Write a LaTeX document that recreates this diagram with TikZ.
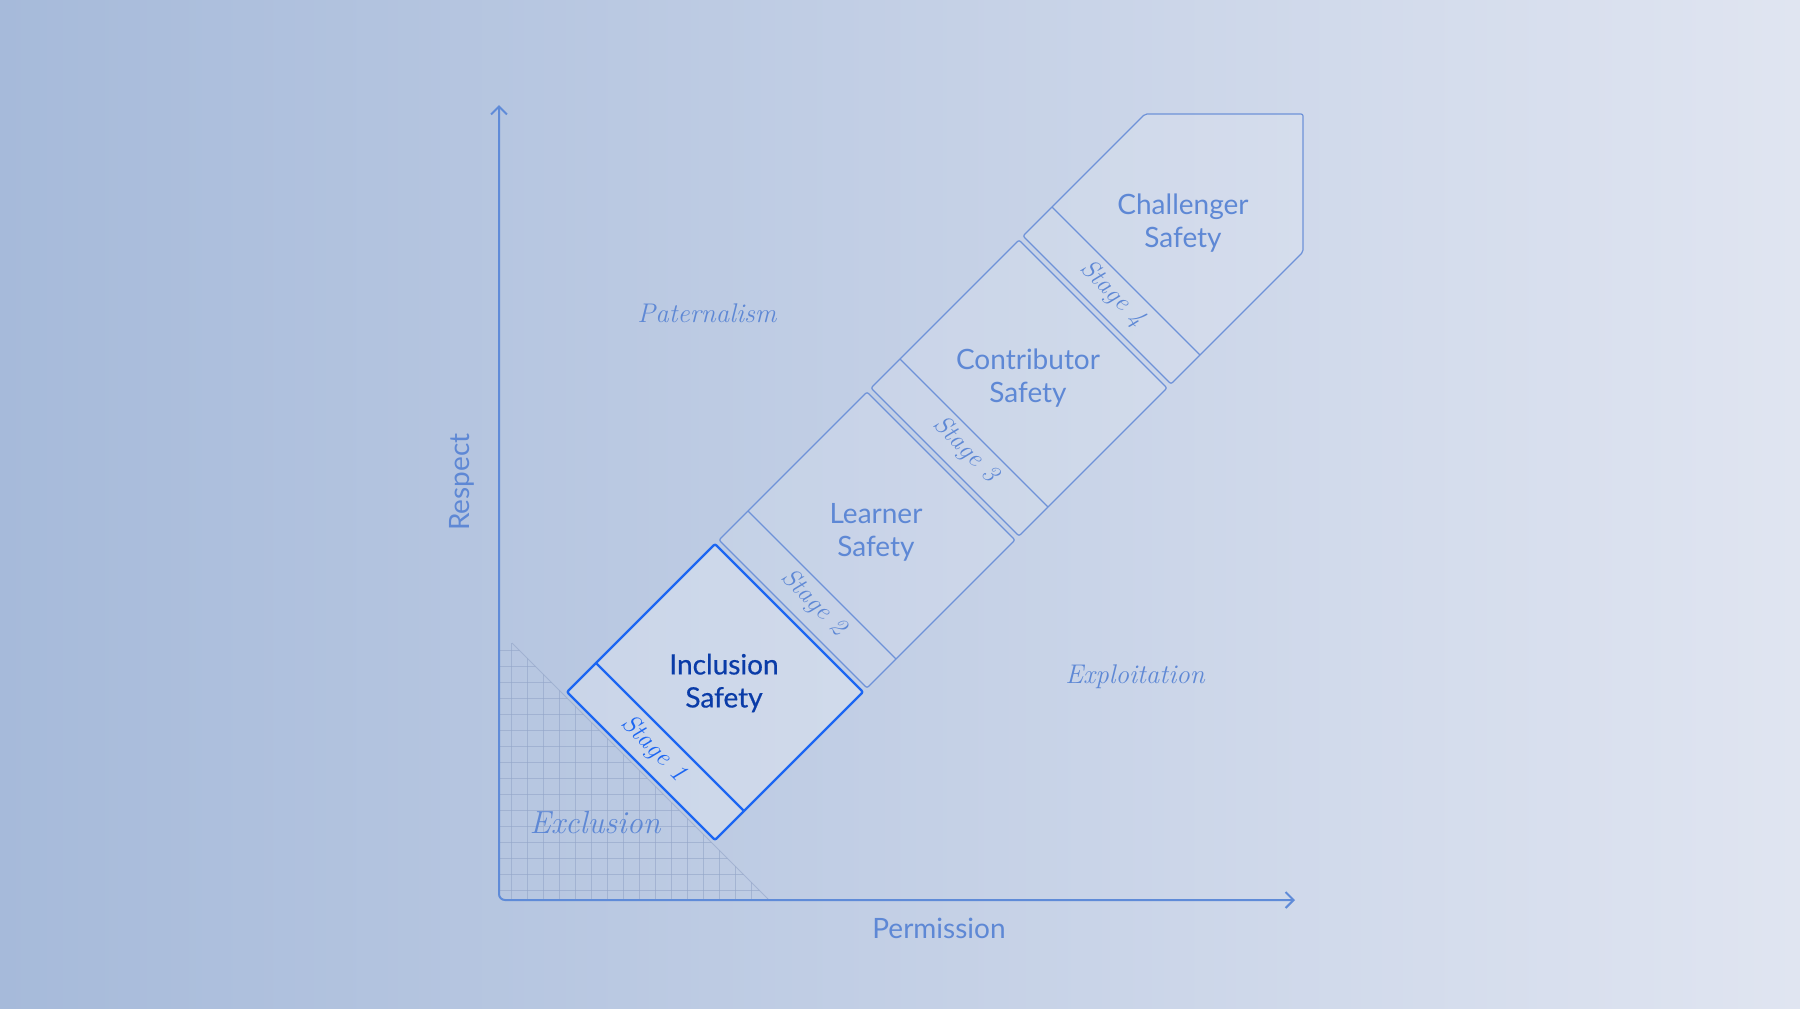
\documentclass[tikz,border=0pt]{standalone}
\usepackage{fontspec}
\newfontfamily\stagesans{Lato}
\newfontfamily\stagesansfocus[FakeBold=0.5]{Lato}
\usepackage{tikz}
\usetikzlibrary{arrows.meta}
\definecolor{BgLeft}{HTML}{A6BADA}
\definecolor{BgMid}{HTML}{C3CFE6}
\definecolor{BgRight}{HTML}{E0E5F1}
\definecolor{AxisBlue}{HTML}{5F8BD8}
\definecolor{LineBlue}{HTML}{6E92D8}
\definecolor{TextBlue}{HTML}{5E88D5}
\definecolor{FocusBlue}{HTML}{1C66F2}
\definecolor{FocusText}{HTML}{0A3CA8}
\definecolor{GridGray}{HTML}{93A5C8}

\begin{document}
\begin{tikzpicture}[
  x=0.5pt,y=-0.5pt,
  every node/.style={align=center},
  axis/.style={AxisBlue,line width=1pt,rounded corners=3pt},
  block/.style={draw=LineBlue,line width=0.6pt,fill=white,fill opacity=0.12,
                rounded corners=1pt},
  divider/.style={draw=LineBlue,line width=0.6pt},
  focus/.style={draw=FocusBlue,line width=1.2pt,fill=white,fill opacity=0.25,
                rounded corners=1pt},
  focusline/.style={draw=FocusBlue,line width=1.2pt},
  gridline/.style={GridGray,line width=0.45pt,opacity=0.6},
  safety/.style={font=\stagesans\fontsize{14}{16.5}\selectfont,text=TextBlue},
  stagetag/.style={font=\itshape\fontsize{13}{15}\selectfont,text=TextBlue,rotate=-45},
  region/.style={font=\itshape\fontsize{13.5}{16}\selectfont,text=TextBlue},
  axislabel/.style={font=\stagesans\fontsize{14}{16}\selectfont,text=TextBlue}
]
  % backdrop
  \shade[left color=BgLeft,middle color=BgMid,right color=BgRight]
    (0,0) rectangle (1800,1008);

  % exclusion zone
  \begin{scope}
    \clip (500,643) -- (512,643) -- (769,900) -- (500,900) -- cycle;
    \foreach \g in {511,527,...,768} \draw[gridline] (\g,643) -- (\g,900);
    \foreach \g in {650,666,...,900} \draw[gridline] (500,\g) -- (769,\g);
  \end{scope}
  \draw[gridline] (512,643) -- (769,900);

  % stages, top down
  \draw[block] (1023,236) -- (1145,114) -- (1303,114) -- (1303,252) -- (1171,384) -- cycle;
  \draw[divider] (1052,207) -- ++(148,148);
  \draw[block] (871,388) -- ++(148,-148) -- ++(148,148) -- ++(-148,148) -- cycle;
  \draw[divider] (900,359) -- ++(148,148);
  \draw[block] (719,540) -- ++(148,-148) -- ++(148,148) -- ++(-148,148) -- cycle;
  \draw[divider] (748,511) -- ++(148,148);
  \draw[focus] (567,692) -- ++(148,-148) -- ++(148,148) -- ++(-148,148) -- cycle;
  \draw[focusline] (596,663) -- ++(148,148);

  \node[safety,font=\stagesansfocus\fontsize{14}{16.5}\selectfont,text=FocusText]
    (inclusion) at (724,683) {Inclusion\\Safety};
  \node[stagetag,text=FocusBlue] (tag1) at (654,749) {Stage 1};
  \node[safety] (learner) at (876,532) {Learner\\Safety};
  \node[stagetag] (tag2) at (814,603) {Stage 2};
  \node[safety] (contributor) at (1028,378) {Contributor\\Safety};
  \node[stagetag] (tag3) at (966,450) {Stage 3};
  \node[safety] (challenger) at (1183,223) {Challenger\\Safety};
  \node[stagetag] (tag4) at (1113,294) {Stage 4};

  % regions
  \node[region] (paternalism) at (707,313) {Paternalism};
  \node[region] (exploitation) at (1135,677) {Exploitation};
  \node[region,font=\itshape\fontsize{16}{18}\selectfont] (exclusion) at (595,823) {Exclusion};

  % axes
  \coordinate (origin) at (499,900);
  \coordinate (respect end) at (499,105);
  \coordinate (permission end) at (1295,900);
  \draw[axis,{Straight Barb[length=4pt,width=8pt]}-{Straight Barb[length=4pt,width=8pt]}]
    (respect end) -- (origin) -- (permission end);
  \node[axislabel,rotate=90] (respect) at (462,482) {Respect};
  \node[axislabel] (permission) at (939,928) {Permission};
\end{tikzpicture}
\end{document}
